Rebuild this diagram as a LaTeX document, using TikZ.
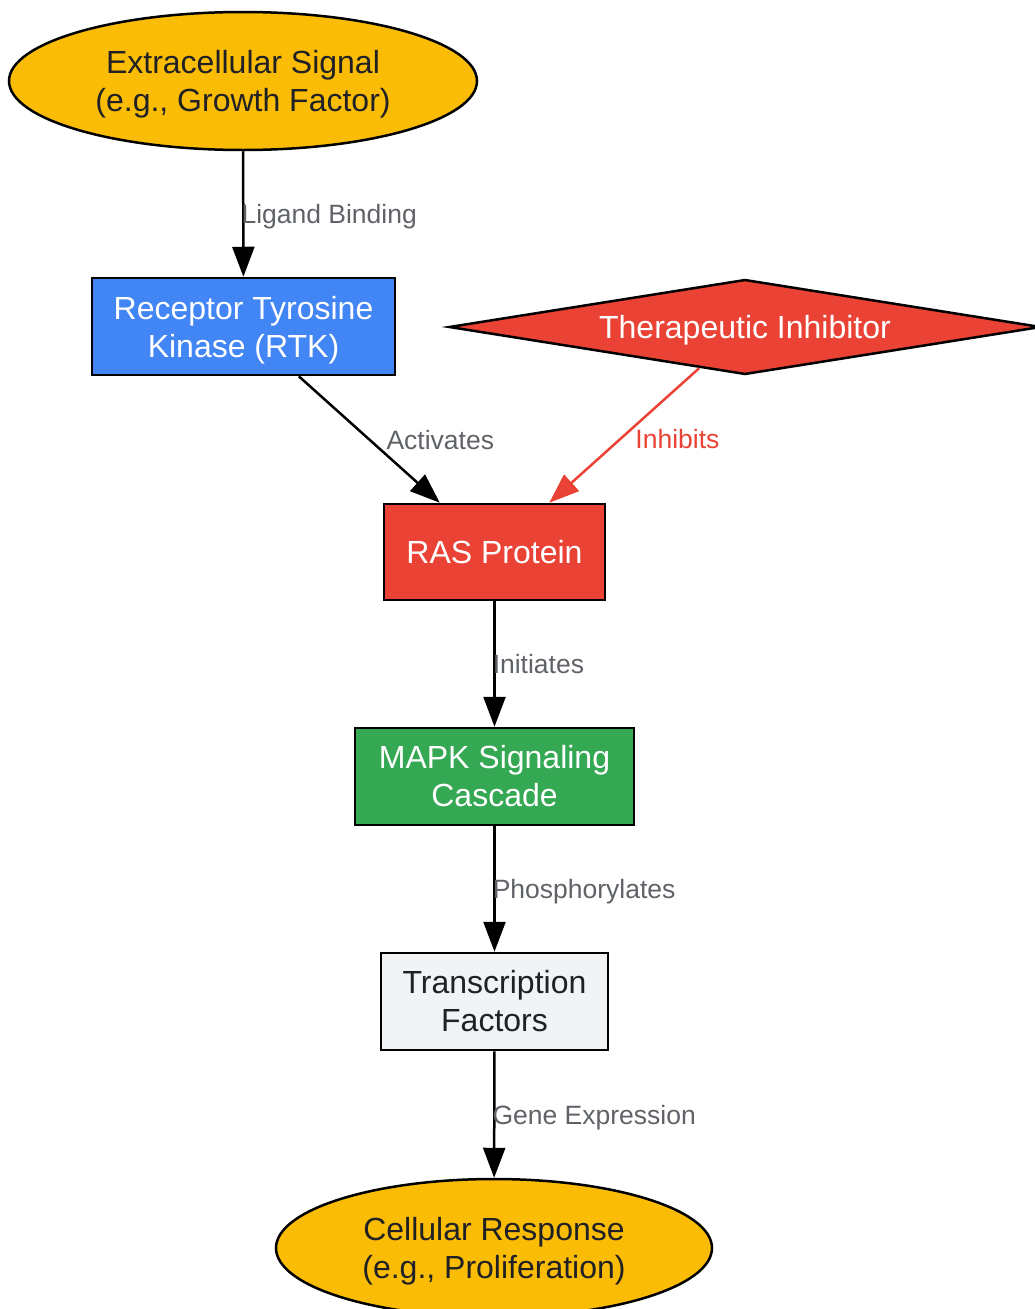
\documentclass[tikz,border=0pt]{standalone}
\usepackage{fontspec}
\setmainfont{Liberation Sans}
\usetikzlibrary{shapes.geometric,arrows.meta}
\definecolor{gyellow}{HTML}{FBBC05}
\definecolor{gblue}{HTML}{4285F4}
\definecolor{gred}{HTML}{EA4335}
\definecolor{ggreen}{HTML}{34A853}
\definecolor{glight}{HTML}{F1F3F4}
\definecolor{gdark}{HTML}{202124}
\definecolor{ggray}{HTML}{5F6368}
\newcommand{\nodp}[1]{\raisebox{0pt}[\height][0pt]{#1}}
\tikzset{
  base/.style={draw=black, line width=2.5pt, inner sep=0pt, align=center,
    font=\fontsize{32}{38}\selectfont},
  oval/.style={base, ellipse, fill=gyellow, text=gdark, minimum width=468pt, minimum height=138pt},
  box/.style={base, rectangle, minimum height=97pt},
  flow/.style={line width=2.5pt, -{Triangle[length=30pt,width=22pt]}},
  lbl/.style={font=\fontsize{26.5}{30}\selectfont, text=ggray, inner sep=0pt, anchor=west,
    text height=19pt, text depth=0pt},
}
\begin{document}
\begin{tikzpicture}[x=1pt,y=-1pt]
\useasboundingbox (0,0) rectangle (1035,1309);
\node[oval] (sig) at (243,81) {Extracellular Signal\\\nodp{(e.g., Growth Factor)}};
\node[box, fill=gblue, text=white, minimum width=303pt] (rtk) at (243.5,326.5) {Receptor Tyrosine\\\nodp{Kinase (RTK)}};
\node[base, diamond, shape aspect=6.2, fill=gred, text=white, minimum width=592pt, minimum height=95pt, text depth=0pt] (inh) at (745,327) {Therapeutic Inhibitor};
\node[box, fill=gred, text=white, minimum width=221pt, minimum height=96pt] (ras) at (494.5,552) {RAS Protein};
\node[box, fill=ggreen, text=white, minimum width=279pt] (mapk) at (494.5,776.5) {MAPK Signaling\\Cascade};
\node[box, fill=glight, text=gdark, minimum width=227pt] (tf) at (494.5,1001.5) {Transcription\\Factors};
\node[oval, minimum width=436pt] (cell) at (494,1248) {Cellular Response\\\nodp{(e.g., Proliferation)}};
\draw[flow] (sig) -- node[lbl, xshift=-3pt] {Ligand Binding} (rtk);
\draw[flow] (rtk) -- node[lbl, xshift=16pt] {Activates} (ras);
\draw[flow, draw=gred, fill=gred] (inh) -- node[lbl, text=gred, xshift=10pt, yshift=-4pt] {Inhibits} (ras);
\draw[flow] (ras) -- node[lbl, xshift=-3pt] {Initiates} (mapk);
\draw[flow] (mapk) -- node[lbl, xshift=-3pt] {Phosphorylates} (tf);
\draw[flow] (tf) -- node[lbl, xshift=-3pt] {Gene Expression} (cell);
\end{tikzpicture}
\end{document}
